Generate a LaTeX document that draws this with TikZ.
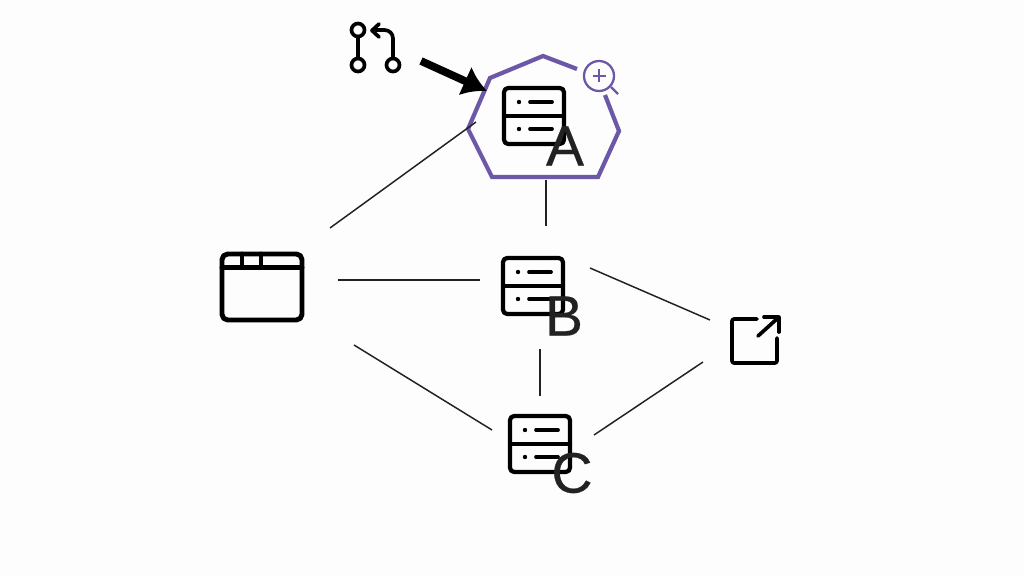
\documentclass[tikz,border=0pt]{standalone}
\usepackage{fontspec}
\setmainfont{Liberation Sans}
\newfontfamily\letterfont[FakeBold=.4]{Liberation Sans}
\usepackage{xcolor}
\usepackage{tikz}
\usetikzlibrary{arrows.meta}

\definecolor{hullviolet}{HTML}{6C58A6}
\definecolor{inkdark}{HTML}{222222}
\definecolor{paper}{HTML}{FDFDFD}

\tikzset{
    icon/.style={draw=black,line width=1.2pt,line cap=round,line join=round},
    thinicon/.style={icon,line width=1.05pt},
    link/.style={draw=inkdark,line width=.42pt},
    hub/.style={inner sep=0pt,minimum size=0pt},
    letter/.style={inner sep=0pt,text=inkdark,font=\letterfont\fontsize{16.2}{16.2}\selectfont},
    srvicon/.pic={
        \draw[icon,rounded corners=1.2pt] (-30,-28) rectangle (30,28);
        \draw[icon] (-30,0) -- (30,0);
        \fill (-15,-14) circle (2.2);
        \fill (-15,13) circle (2.2);
        \draw[thinicon] (-4,-14) -- (18,-14);
        \draw[thinicon] (-4,13) -- (18,13);
    }
}

\begin{document}
\begin{tikzpicture}
                    [
                        x=.01cm,y=-.01cm,
                        every path/.style={thick}
                    ]

                    % Platz
                    \useasboundingbox (0,0) rectangle (1024,576);
                    \fill[paper] (0,0) rectangle (1024,576);

                    \node[hub] (win) at (262,287) {};
                    \node[hub] (srvA) at (534,116) {};
                    \node[hub] (srvB) at (533,286) {};
                    \node[hub] (srvC) at (540,444) {};
                    \node[hub] (ext) at (754,341) {};
                    \node[hub] (git) at (375,47) {};

                    % Hülle
                    \draw[hullviolet,line width=1.2pt,line join=miter]
                        (577,69) -- (543,56) -- (490,78) -- (468,129) -- (492,177)
                        -- (598,177) -- (619,131) -- (605,95);
                    \draw[hullviolet,line width=.65pt] (599,76) circle (15);
                    \draw[hullviolet,line width=.65pt] (611,87) -- (618,94);
                    \draw[hullviolet,line width=.6pt] (592.5,76) -- (605.5,76);
                    \draw[hullviolet,line width=.6pt] (599,69.5) -- (599,82.5);

                    % Server
                    \pic at (srvA) {srvicon};
                    \pic at (srvB) {srvicon};
                    \pic at (srvC) {srvicon};
                    \node[letter] (lblA) at (565,146) {A};
                    \node[letter] (lblB) at (564,316) {B};
                    \node[letter] (lblC) at (572,473) {C};

                    % Fenster
                    \draw[icon,line width=1.4pt,rounded corners=1.6pt] (222,254) rectangle (302,320);
                    \draw[icon,line width=1.4pt] (222,267.5) -- (302,267.5);
                    \draw[icon,line width=1.4pt] (242,254) -- (242,267);
                    \draw[icon,line width=1.4pt] (261,254) -- (261,267);

                    % Link
                    \draw[thinicon,rounded corners=.6pt] (757,319) -- (732,319) -- (732,363) -- (777,363) -- (777,338);
                    \draw[thinicon] (758,336) -- (779,317);
                    \draw[thinicon] (764,317) -- (779,317) -- (779,332);

                    % PR
                    \draw[thinicon] (358,30) circle (6.5);
                    \draw[thinicon] (358,65) circle (6.5);
                    \draw[thinicon] (393,65) circle (6.5);
                    \draw[thinicon] (358,37) -- (358,58);
                    \draw[thinicon,rounded corners=2.4pt] (393,58) -- (393,30) -- (373,30);
                    \draw[thinicon] (379,24) -- (372,30.5) -- (379,37);

                    % Kanten
                    \draw[link] ([shift={(68,-59)}]win.center) -- ([shift={(-58,6)}]srvA.center);
                    \draw[link] ([shift={(76,-7)}]win.center) -- ([shift={(-53,-6)}]srvB.center);
                    \draw[link] ([shift={(92,58)}]win.center) -- ([shift={(-48,-14)}]srvC.center);
                    \draw[link] ([shift={(12,64)}]srvA.center) -- ([shift={(13,-60)}]srvB.center);
                    \draw[link] ([shift={(7,63)}]srvB.center) -- ([shift={(0,-48)}]srvC.center);
                    \draw[link] ([shift={(57,-18)}]srvB.center) -- ([shift={(-44,-21)}]ext.center);
                    \draw[link] ([shift={(54,-9)}]srvC.center) -- ([shift={(-51,21)}]ext.center);

                    \draw[black,line width=2.2pt,-{Latex[length=6.8pt,width=9pt]}]
                        ([shift={(46,14)}]git.center) -- ([shift={(-47,-25)}]srvA.center);
                \end{tikzpicture}
\end{document}
